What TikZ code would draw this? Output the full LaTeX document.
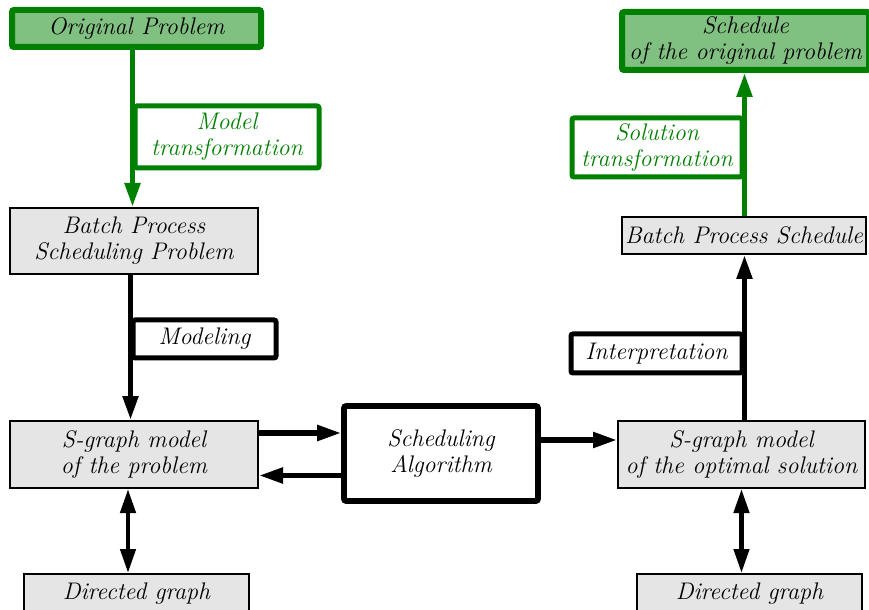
\documentclass[tikz,border=0pt]{standalone}
\usepackage{tikz}
\usetikzlibrary{arrows.meta}
\definecolor{trgreen}{RGB}{0,128,0}
\definecolor{trfill}{RGB}{128,192,128}
\newcommand{\boxfont}{\itshape\fontsize{12}{13}\selectfont}
\tikzset{
  stagebox/.style = {draw,line width=1pt,fill=black!10,font=\boxfont,
                     align=center,inner sep=0pt},
  resbox/.style   = {draw=trgreen,line width=3pt,fill=trfill,rounded corners=1pt,
                     font=\boxfont,align=center,inner sep=0pt},
  steplabel/.style= {draw,line width=2.5pt,fill=white,rounded corners=1pt,
                     font=\boxfont,align=center,inner sep=0pt},
  greenlabel/.style={steplabel,draw=trgreen,text=trgreen},
  algbox/.style   = {draw,line width=2.8pt,fill=white,rounded corners=1pt,
                     font=\boxfont,align=center,inner sep=0pt},
  flowarr/.style  = {-{Triangle[length=12pt,width=7.5pt]},line width=2.6pt},
  dblarr/.style   = {{Triangle[length=12pt,width=7.5pt]}-{Triangle[length=12pt,width=7.5pt]},line width=2.2pt},
  greenarr/.style = {flowarr,trgreen}
}
\begin{document}
\begin{tikzpicture}[x=0.5pt,y=-0.5pt]
  \useasboundingbox (0,0) rectangle (869,610);

  % left column: from the original problem down to the graph
  \node[resbox,minimum width=124.5pt,minimum height=18.5pt] (orig) at (136.5,28.5) {Original Problem};
  \node[greenlabel,minimum width=92pt,minimum height=31pt] (modtr) at (227,137) {Model\\transformation};
  \node[stagebox,minimum width=124pt,minimum height=33pt] (bpsp) at (134,241) {Batch Process\\Scheduling Problem};
  \node[steplabel,minimum width=71.5pt,minimum height=19pt] (modl) at (204.5,339) {Modeling};
  \node[stagebox,minimum width=124pt,minimum height=33.5pt] (sgp) at (134,454.5) {S-graph model\\of the problem};
  \node[stagebox,minimum width=112.5pt,minimum height=20pt] (dgl) at (136.5,594) {Directed graph};

  % the solver in the middle
  \node[algbox,minimum width=97pt,minimum height=47.5pt] (alg) at (441,453.5) {Scheduling\\Algorithm};

  % right column: from the solution back up to the schedule
  \node[stagebox,minimum width=123.5pt,minimum height=33.5pt] (sgs) at (741.5,454.5) {S-graph model\\of the optimal solution};
  \node[stagebox,minimum width=112.5pt,minimum height=20pt] (dgr) at (749.5,594) {Directed graph};
  \node[steplabel,minimum width=85.5pt,minimum height=19.5pt] (interp) at (656.5,353.5) {Interpretation};
  \node[stagebox,minimum width=122pt,minimum height=18.5pt] (bps) at (744,235.5) {Batch Process Schedule};
  \node[greenlabel,minimum width=85pt,minimum height=29.5pt] (soltr) at (657,147.5) {Solution\\transformation};
  \node[resbox,minimum width=123.5pt,minimum height=29pt] (sched) at (745.5,41) {Schedule\\of the original problem};

  \draw[greenarr] (modtr.west |- orig.south) -- (modtr.west |- bpsp.north);
  \draw[flowarr]  (modl.west |- bpsp.south) -- (modl.west |- sgp.north);
  \draw[flowarr]  ([yshift=10.75pt]sgp.east) -- ([yshift=10.75pt]sgp.east -| alg.west);
  \draw[flowarr]  ([yshift=-11pt]alg.west) -- ([yshift=-11pt]alg.west -| sgp.east);
  \draw[flowarr]  ([yshift=6.75pt]alg.east) -- ([yshift=6.75pt]alg.east -| sgs.west);
  \draw[flowarr]  (interp.east |- sgs.north) -- (interp.east |- bps.south);
  \draw[greenarr] (soltr.east |- bps.north) -- (soltr.east |- sched.south);
  \draw[dblarr]   ([xshift=-3pt]sgp.south) -- ([xshift=-3pt]sgp.south |- dgl.north);
  \draw[dblarr]   (sgs.south) -- (sgs.south |- dgr.north);
\end{tikzpicture}
\end{document}
